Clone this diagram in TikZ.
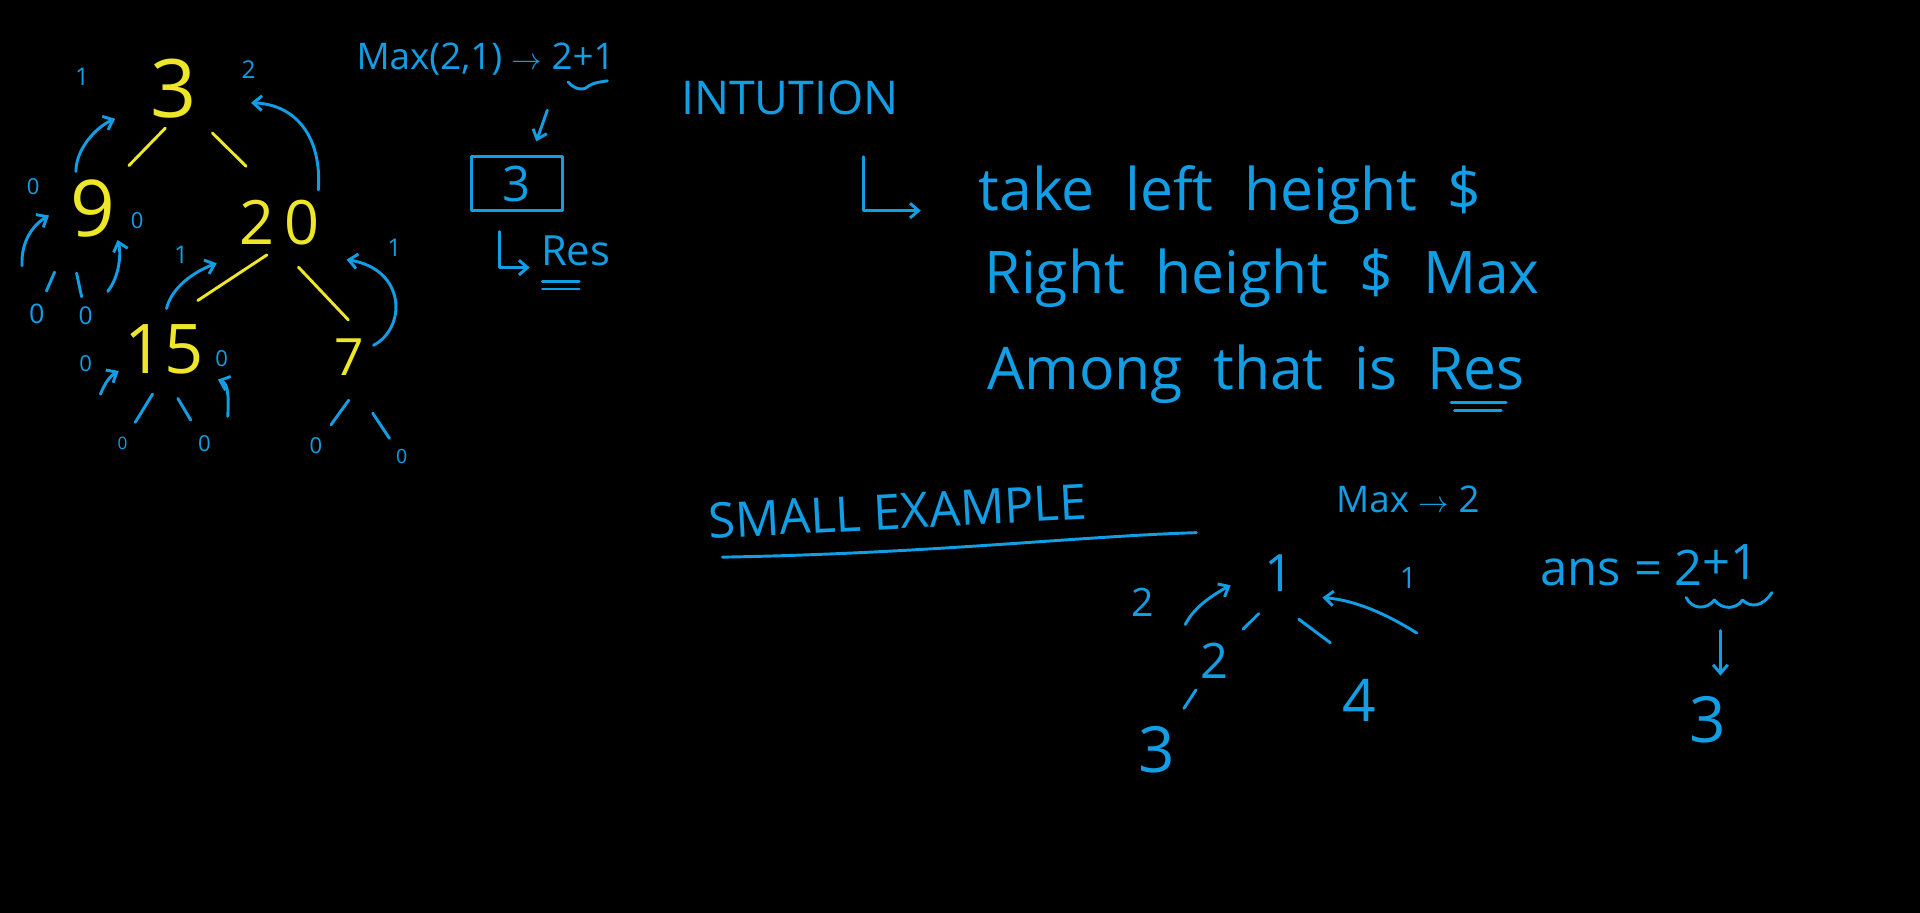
\documentclass[tikz,border=0pt]{standalone}
\usepackage{fontspec}
\setmainfont{Open Sans}
\newfontfamily\handfont{Open Sans}[WordSpace=2]
\usetikzlibrary{arrows.meta}
\definecolor{inkblue}{RGB}{18,158,228}
\definecolor{inkyellow}{RGB}{238,230,40}

\begin{document}
\begin{tikzpicture}[x=1pt, y=-1pt, line width=2.4pt, line cap=round, line join=round,
    fs/.style={font=\fontsize{#1}{#1}\selectfont},
    handline/.style={text=inkblue, inner sep=0pt, anchor=base west, font=\handfont\fontsize{48}{48}\selectfont},
    ynum/.style={text=inkyellow, inner sep=0pt},
    bnum/.style={text=inkblue, inner sep=0pt},
    yedge/.style={draw=inkyellow},
    bedge/.style={draw=inkblue},
    harrow/.style={draw=inkblue, -{Straight Barb[length=7pt,width=12pt]}}]

  %% ════ 背景 ════
  \fill[black] (0,0) rectangle (1568,745.6);

  %% ════ 树一：黄色节点 ════
  \node[ynum, fs=66] (n3)  at (142,72)  {3};
  \node[ynum, fs=64] (n9)  at (76,170)  {9};
  \node[ynum, fs=50] (n20) at (228,182) {2\hspace{8pt}0};
  \node[ynum, fs=56] (n15) at (134,285) {15};
  \node[ynum, fs=42] (n7)  at (285,292) {7};

  %% ════ 树一：黄色边 ════
  \draw[yedge, shorten <=10pt, shorten >=14pt] (n3.south) -- (n9.north east);
  \draw[yedge, shorten <=16pt, shorten >=38pt] (n3.south east) -- (n20.north);
  \draw[yedge, shorten <=12pt, shorten >=33pt] (n20.south) -- (n15.north);
  \draw[yedge, shorten <=23pt, shorten >=20pt] (n20.south) -- (n7.north east);

  %% ════ 树一：蓝色高度标注 ════
  \node[bnum, fs=20] (h9)   at (67,63)   {1};
  \node[bnum, fs=20] (h20)  at (203,57)  {2};
  \node[bnum, fs=18] (h9l)  at (27,152)  {0};
  \node[bnum, fs=18] (h9r)  at (112,180) {0};
  \node[bnum, fs=20] (h15)  at (148,208) {1};
  \node[bnum, fs=20] (h7)   at (322,202) {1};
  \node[bnum, fs=18] (h15l) at (70,297)  {0};
  \node[bnum, fs=18] (h15r) at (181,293) {0};

  %% ════ 树一：空叶子 ════
  \node[bnum, fs=22] (z9a)  at (30,256)  {0};
  \node[bnum, fs=20] (z9b)  at (70,258)  {0};
  \node[bnum, fs=14] (z15a) at (100,362) {0};
  \node[bnum, fs=18] (z15b) at (167,362) {0};
  \node[bnum, fs=18] (z7a)  at (258,364) {0};
  \node[bnum, fs=16] (z7b)  at (328,373) {0};

  \draw[bedge, shorten <=30pt, shorten >=20pt] (n9.south west) -- (z9a.center);
  \draw[bedge, shorten <=29pt, shorten >=16pt] (n9.south west) -- (z9b.center);
  \draw[bedge, shorten <=18pt, shorten >=20pt] (n15.south) -- (z15a.center);
  \draw[bedge, shorten <=22pt, shorten >=22pt] (n15.south) -- (z15b.center);
  \draw[bedge, shorten <=23pt, shorten >=21pt] (n7.south east) -- (z7a.center);
  \draw[bedge, shorten <=35pt, shorten >=18pt] (n7.south) -- (z7b.center);

  %% ════ 树一：回传箭头 ════
  \coordinate (a9s)  at (62,140);  \coordinate (a9e)  at (94,97);
  \coordinate (a20s) at (260,155); \coordinate (a20e) at (205,84);
  \coordinate (l9s)  at (18,217);  \coordinate (l9e)  at (40,176);
  \coordinate (r9s)  at (88,238);  \coordinate (r9e)  at (96,196);
  \coordinate (a15s) at (136,252); \coordinate (a15e) at (177,215);
  \coordinate (a7s)  at (305,282); \coordinate (a7e)  at (283,212);
  \coordinate (l15s) at (82,322);  \coordinate (l15e) at (97,303);
  \coordinate (r15s) at (186,340); \coordinate (r15e) at (178,310);

  \draw[harrow] (a9s) .. controls (62,122) and (78,104) .. (a9e);
  \draw[harrow] (a20s) .. controls (263,110) and (240,85) .. (a20e);
  \draw[harrow] (l9s) .. controls (17,196) and (28,183) .. (l9e);
  \draw[harrow] (r9s) .. controls (98,225) and (99,206) .. (r9e);
  \draw[harrow] (a15s) .. controls (140,235) and (158,222) .. (a15e);
  \draw[harrow] (a7s) .. controls (332,268) and (332,220) .. (a7e);
  \draw[harrow] (l15s) .. controls (86,312) and (90,307) .. (l15e);
  \draw[harrow] (r15s) .. controls (187,322) and (186,313) .. (r15e);

  %% ════ 右上：Max(2,1) 与结果框 ════
  \node[bnum, fs=30, anchor=west] (maxeq) at (290,48) {Max(2,1) $\to$ 2+1};
  \draw[bedge] (464,67) .. controls (470,74) and (478,74) .. (481,70) .. controls (486,67) and (491,67) .. (496,66);
  \coordinate (pdown) at (447,90);
  \node[bnum, draw=inkblue, fs=40, minimum width=74pt, minimum height=44pt] (box) at (422,150) {3};
  \draw[harrow, shorten >=12pt] (pdown) -- ([xshift=12pt]box.north);
  \node[bnum, fs=34] (res) at (470,205) {Res};
  \draw[harrow, shorten <=16pt, shorten >=8pt] ([xshift=-14pt]box.south) |- (res.south west);
  \draw[bedge] (443,230) -- (473,230);
  \draw[bedge] (443,236) -- (473,236);

  %% ════ 思路文字 ════
  \node[bnum, fs=38, anchor=west] (intu) at (555,80) {INTUTION};
  \coordinate (lcorner) at (705,128);
  \node[handline] (line1) at (798,172) {take left height \$};
  \node[handline] (line2) at (803,240) {Right height \$ Max};
  \node[handline] (line3) at (805,318) {Among that is Res};
  \draw[harrow, shorten >=46pt] (lcorner) |- (line1.base west);
  \draw[bedge] (1185,329) -- (1230,329);
  \draw[bedge] (1188,335) -- (1226,335);

  %% ════ 小例子 ════
  \node[bnum, fs=40, rotate=3, anchor=base west] (small) at (578,440) {SMALL EXAMPLE};
  \draw[bedge] (590,455) .. controls (760,452) and (880,438) .. (977,435);
  \node[bnum, fs=30, anchor=west] (maxnote) at (1090,408) {Max $\to$ 2};

  \node[bnum, fs=42] (m1) at (1045,468) {1};
  \node[bnum, fs=40] (m2) at (992,540)  {2};
  \node[bnum, fs=48] (m4) at (1110,572) {4};
  \node[bnum, fs=52] (m3) at (945,612)  {3};
  \node[bnum, fs=32] (g2) at (933,492)  {2};
  \node[bnum, fs=24] (g1) at (1150,472) {1};

  \draw[bedge, shorten <=24pt, shorten >=15pt] (m1.south) -- (m2.north east);
  \draw[bedge, shorten <=36pt, shorten >=48pt] (m1.south west) -- (m4.north east);
  \draw[bedge, shorten <=28pt, shorten >=40pt] (m2.center) -- (m3.center);

  \coordinate (b2s) at (968,510);  \coordinate (b2e) at (1005,478);
  \coordinate (b4s) at (1157,517); \coordinate (b4e) at (1080,488);
  \draw[harrow] (b2s) .. controls (975,496) and (990,486) .. (b2e);
  \draw[harrow] (b4s) .. controls (1130,500) and (1105,490) .. (b4e);

  %% ════ ans = 2+1 ════
  \node[bnum, fs=40, anchor=base west] (ans) at (1257,478) {ans = 2\raisebox{5pt}{+1}};
  \draw[bedge] (1377,488) .. controls (1382,498) and (1394,498) .. (1400,490) .. controls (1406,498) and (1418,498) .. (1423,490) .. controls (1430,497) and (1440,495) .. (1447,484);
  \node[bnum, fs=52] (a3) at (1395,588) {3};
  \coordinate (adown) at (1405,515);
  \draw[harrow, shorten >=16pt] (adown) -- ([xshift=10pt]a3.north);

  % 钉死画布
  \pgfresetboundingbox
  \path[use as bounding box] (0,0) rectangle (1568,745.6);
\end{tikzpicture}
\end{document}
